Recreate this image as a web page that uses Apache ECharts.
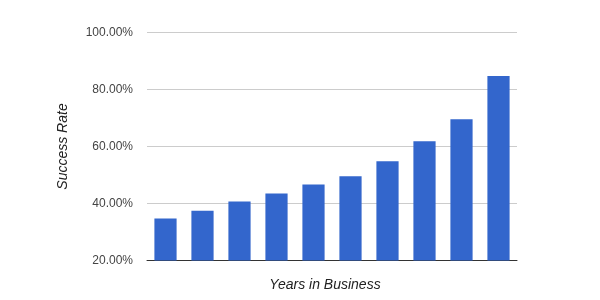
<!DOCTYPE html>
<html><head><meta charset="utf-8">
<script src="https://cdn.jsdelivr.net/npm/echarts@6/dist/echarts.min.js"></script>
<style>html,body{margin:0;padding:0;background:#fff}#c{width:600px;height:300px}</style>
</head><body><div id="c"></div>
<script>
const categories = ['1','2','3','4','5','6','7','8','9','10'];
const successRate = [34.7, 37.5, 40.7, 43.5, 46.7, 49.6, 54.8, 61.8, 69.6, 84.7];
const yTicks = [20, 40, 60, 80, 100];

const chart = echarts.init(document.getElementById('c'), null, {renderer: 'canvas'});
chart.setOption({
  animation: false,
  textStyle: {fontFamily: 'Liberation Sans, Arial, sans-serif'},
  grid: {left: 147, right: 83, top: 32.5, bottom: 39.5},
  xAxis: {
    type: 'category',
    data: categories,
    name: 'Years in Business',
    nameLocation: 'middle',
    nameGap: 18,
    nameTextStyle: {fontStyle: 'italic', fontSize: 14, color: '#222', fontFamily: 'Liberation Sans', padding: [0, 14, 0, 0]},
    axisLine: {lineStyle: {color: '#333', width: 1}},
    axisTick: {show: false},
    axisLabel: {show: false}
  },
  yAxis: {
    type: 'value',
    min: yTicks[0],
    max: yTicks[yTicks.length - 1],
    interval: 20,
    name: 'Success Rate',
    nameLocation: 'middle',
    nameGap: 77,
    nameTextStyle: {fontStyle: 'italic', fontSize: 14, color: '#222', fontFamily: 'Liberation Sans'},
    axisLine: {show: false},
    axisTick: {show: false},
    axisLabel: {
      margin: 14,
      color: '#444',
      fontSize: 12,
      fontFamily: 'Liberation Sans',
      formatter: v => v.toFixed(2) + '%'
    },
    splitLine: {lineStyle: {color: '#ccc', width: 1}}
  },
  series: [{
    type: 'bar',
    data: successRate,
    barCategoryGap: '40%',
    itemStyle: {color: '#3366cc'}
  }]
});
</script></body></html>
